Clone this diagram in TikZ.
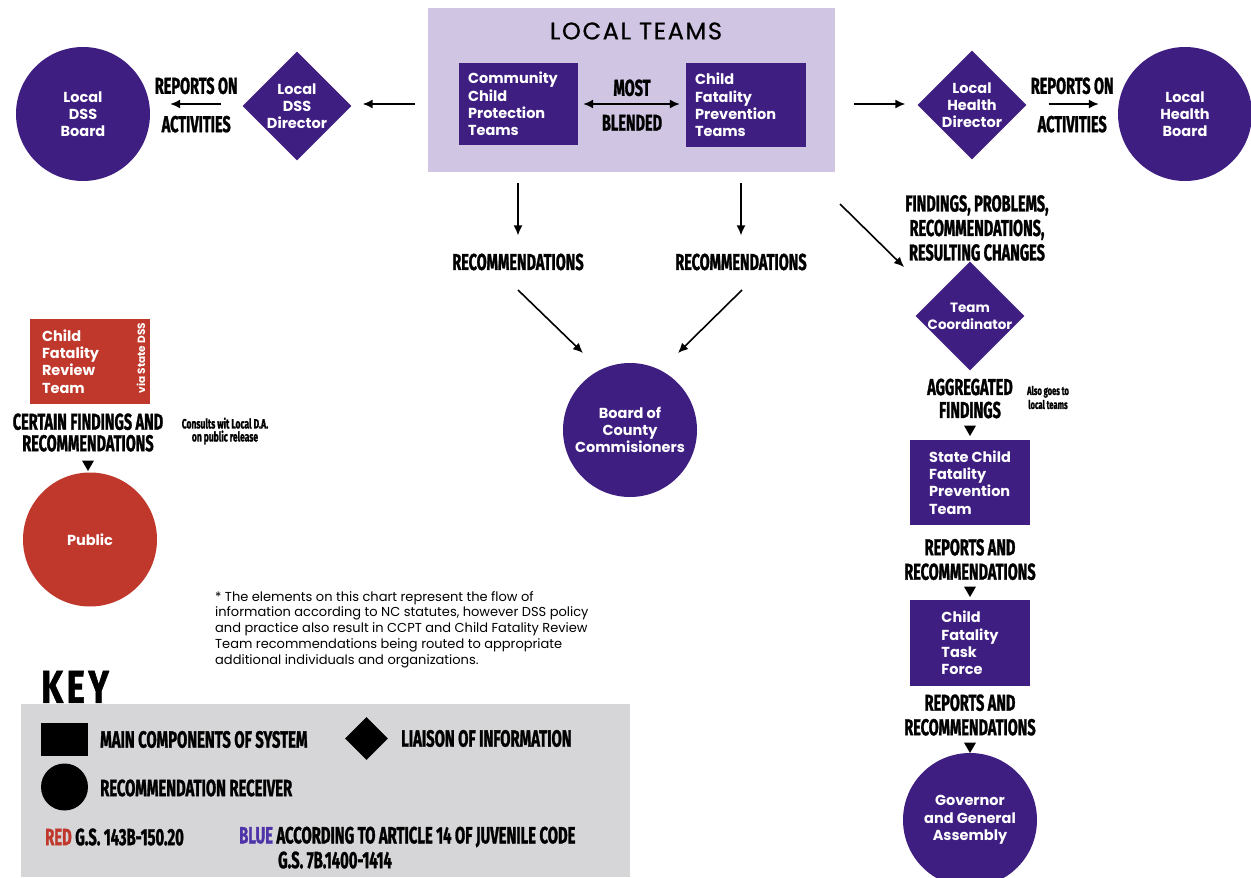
\documentclass[tikz,border=0pt]{standalone}
\usepackage{fontspec}
\setmainfont{Poppins}
\newfontfamily\condf{Fira Sans}[FakeStretch=0.63, FakeBold=1.2]
\newfontfamily\keyf{Fira Sans}[FakeStretch=0.75, LetterSpace=8, FakeBold=1.2]
\usetikzlibrary{arrows.meta,shapes.geometric}
\definecolor{pur}{RGB}{63,30,130}
\definecolor{lav}{RGB}{208,198,228}
\definecolor{rd}{RGB}{192,56,44}
\definecolor{keygray}{RGB}{214,214,217}
\definecolor{bluetxt}{RGB}{78,52,168}
\newcommand\myNodeFont{\bfseries\fontsize{14.5}{17.3}\selectfont}
\newcommand\myLblFont{\condf\bfseries\fontsize{23}{24.5}\selectfont}
\newcommand\mySmallFont{\condf\bfseries\fontsize{13.5}{13}\selectfont}
\begin{document}
\begin{tikzpicture}[x=1pt,y=-1pt,
  pbox/.style={rectangle, fill=pur, text=white, font=\myNodeFont, align=left, inner sep=0},
  rbox/.style={rectangle, fill=rd, inner sep=0},
  pcirc/.style={circle, fill=pur, text=white, font=\myNodeFont, align=center, minimum size=134, inner sep=0},
  pdia/.style={diamond, fill=pur, minimum width=109, minimum height=109, inner sep=0, aspect=1},
  dtext/.style={text=white, font=\myNodeFont, align=center, inner sep=0},
  lbl/.style={font=\myLblFont, align=center, inner sep=0},
  smalllbl/.style={font=\mySmallFont, align=center, inner sep=0},
  arr/.style={-{Latex[length=10pt,width=9pt]}, line width=1.6pt},
  darr/.style={{Latex[length=10pt,width=9pt]}-{Latex[length=10pt,width=9pt]}, line width=1.6pt},
  tri/.style={regular polygon, regular polygon sides=3, shape border rotate=180, fill=black, minimum size=14, inner sep=0},
  keytxt/.style={font=\condf\bfseries\fontsize{23.5}{24}\selectfont, anchor=west, inner sep=0}
]
\fill[white] (0,0) rectangle (1251,878);
\useasboundingbox (0,0) rectangle (1251,878);

% ---------- local teams ----------
\node[rectangle, fill=lav, minimum width=407, minimum height=164, inner sep=0] (lt) at (631.5,90) {};
\node[font=\fontsize{24}{26}\selectfont\addfontfeatures{FakeBold=0.8,LetterSpace=7}, inner sep=0] (lttitle) at (636,31) {LOCAL TEAMS};
\node[pbox, minimum width=119, minimum height=82, text width=101] (ccpt) at (518.5,104) {Community\\Child\\Protection\\Teams};
\node[pbox, minimum width=120, minimum height=84, text width=102] (cfpt) at (746,105) {Child\\Fatality\\Prevention\\Teams};
\draw[darr, shorten <=5pt, shorten >=6pt] (ccpt.east) -- (ccpt.east -| cfpt.west)
  node[lbl, midway, above=7pt] (most) {MOST}
  node[lbl, midway, below=10pt] (blend) {BLENDED};

% ---------- left top ----------
\node[pcirc] (dssb) at (83,114) {Local\\DSS\\Board};
\node[pdia, label={[dtext]center:Local\\DSS\\Director}] (dssd) at (297,106) {};
\draw[arr, shorten <=13pt, shorten >=11pt] (lt.west |- 0,104) -- (dssd.east |- 0,104);
\draw[arr, shorten <=21pt, shorten >=20pt] (dssd.west |- 0,104) -- (dssb.east |- 0,104)
  node[lbl, midway, above=9pt] (rep1) {REPORTS ON}
  node[lbl, midway, below=11pt] (act1) {ACTIVITIES};

% ---------- right top ----------
\node[pdia, label={[dtext]center:Local\\Health\\Director}] (hdir) at (972,105) {};
\node[pcirc] (hb) at (1185,114) {Local\\Health\\Board};
\draw[arr, shorten <=19pt, shorten >=12pt] (lt.east |- 0,104) -- (hdir.west |- 0,104);
\draw[arr, shorten <=22pt, shorten >=19pt] (hdir.east |- 0,104) -- (hb.west |- 0,104)
  node[lbl, midway, above=9pt] (rep2) {REPORTS ON}
  node[lbl, midway, below=11pt] (act2) {ACTIVITIES};

% ---------- recommendations to county ----------
\node[lbl] (rec1) at (518,262) {RECOMMENDATIONS};
\node[lbl] (rec2) at (741,262) {RECOMMENDATIONS};
\draw[arr, shorten <=11pt, shorten >=18pt] (lt.south -| rec1) -- (rec1.north);
\draw[arr, shorten <=11pt, shorten >=18pt] (lt.south -| rec2) -- (rec2.north);
\node[pcirc] (bcc) at (630,430) {Board of\\County\\Commisioners};
\coordinate (d1a) at (518,290);
\coordinate (d1b) at (583,353);
\coordinate (d2a) at (742,290);
\coordinate (d2b) at (678,353);
\draw[arr] (d1a) -- (d1b);
\draw[arr] (d2a) -- (d2b);

% ---------- right column ----------
\coordinate (d3a) at (840,204);
\coordinate (d3b) at (904,267);
\draw[arr] (d3a) -- (d3b);
\node[lbl] (find) at (977,228) {FINDINGS, PROBLEMS,\\RECOMMENDATIONS,\\RESULTING CHANGES};
\node[pdia, label={[dtext, font=\bfseries\fontsize{13.5}{17}\selectfont]center:Team\\Coordinator}] (tc) at (970,316) {};
\node[lbl, font=\condf\bfseries\fontsize{23}{23}\selectfont] (agg) at (970,398.5) {AGGREGATED\\FINDINGS};
\node[smalllbl, font=\condf\bfseries\fontsize{12}{14}\selectfont] (also) at (1048,397.5) {Also goes to\\local teams};
\node[tri] (t1) at (970,429) {};
\node[pbox, minimum width=120, minimum height=85] (scfpt) at (970,482.5) {State Child\\Fatality\\Prevention\\Team};
\node[lbl] (rep3) at (970,559.5) {REPORTS AND\\RECOMMENDATIONS};
\node[tri] (t2) at (970,590) {};
\node[pbox, minimum width=120, minimum height=86] (cftf) at (970,643) {Child\\Fatality\\Task\\Force};
\node[lbl] (rep4) at (970,715) {REPORTS AND\\RECOMMENDATIONS};
\node[tri] (t3) at (970,746) {};
\node[pcirc] (gov) at (970,820) {Governor\\and General\\Assembly};

% ---------- left column (red) ----------
\node[rbox, minimum width=120, minimum height=85] (cfrt) at (90,361.5) {};
\node[anchor=west, text=white, font=\myNodeFont, align=left, inner sep=0] (cfrttxt) at ([xshift=12pt]cfrt.west) {Child\\Fatality\\Review\\Team};
\node[rotate=90, text=white, font=\bfseries\fontsize{10.5}{12}\selectfont, inner sep=0] (via) at (141,358) {via State DSS};
\node[lbl, font=\condf\bfseries\fontsize{23}{21.5}\selectfont] (cert) at (88,432.5) {CERTAIN FINDINGS AND\\RECOMMENDATIONS};
\node[smalllbl] (cons) at (225,431) {Consults wit Local D.A.\\on public release};
\node[tri] (t4) at (88,464) {};
\node[circle, fill=rd, text=white, font=\myNodeFont, minimum size=134, inner sep=0] (pub) at (90,539.5) {Public};

% ---------- note ----------
\node[anchor=north west, align=left, inner sep=0, font=\fontsize{13}{15.8}\selectfont] (note) at (215,591)
 {* The elements on this chart represent the flow of\\
  information according to NC statutes, however DSS policy\\
  and practice also result in CCPT and Child Fatality Review\\
  Team recommendations being routed to appropriate\\
  additional individuals and organizations.};

% ---------- key ----------
\node[anchor=south west, inner sep=0, font=\keyf\bfseries\fontsize{46}{46}\selectfont] (key) at (41,703) {KEY};
\node[rectangle, fill=keygray, minimum width=609, minimum height=173, inner sep=0] (keybox) at (325.5,790.5) {};
\node[rectangle, fill=black, minimum width=47, minimum height=33, inner sep=0] (ksq) at (64.5,739.5) {};
\node[keytxt] (k1) at (100,739.5) {MAIN COMPONENTS OF SYSTEM};
\node[diamond, fill=black, minimum width=43, minimum height=43, inner sep=0, aspect=1] (kdia) at (366.5,738.5) {};
\node[keytxt] (k2) at (401,738.5) {LIAISON OF INFORMATION};
\node[circle, fill=black, minimum size=47, inner sep=0] (kcirc) at (64.5,787) {};
\node[keytxt] (k3) at (100,788) {RECOMMENDATION RECEIVER};
\node[keytxt] (k4) at (45,837) {\textcolor{rd}{RED} G.S. 143B-150.20};
\node[keytxt] (k5) at (239,837) {\textcolor{bluetxt}{BLUE} ACCORDING TO ARTICLE 14 OF JUVENILE CODE};
\node[keytxt, anchor=center] (k6) at (335,860) {G.S. 7B.1400-1414};
\end{tikzpicture}
\end{document}
